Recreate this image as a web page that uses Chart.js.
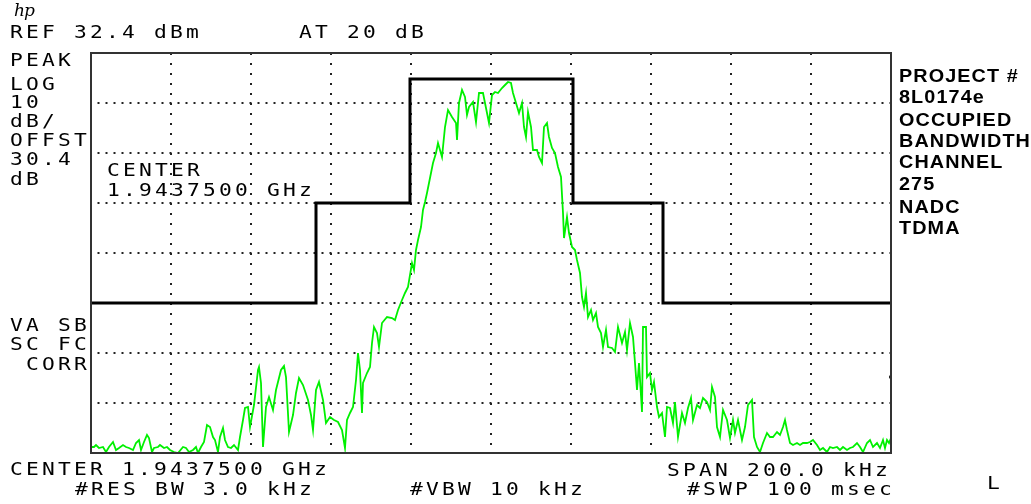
<!DOCTYPE html>
<html>
<head>
<meta charset="utf-8">
<script src="https://cdn.jsdelivr.net/npm/chart.js@4.4.0/dist/chart.umd.min.js"></script>
<style>
  html, body { margin: 0; padding: 0; background: #fff; }
  #wrap { position: relative; width: 1031px; height: 504px; overflow: hidden; background: #fff; }
  #c { position: absolute; left: 0; top: 0; }
  .m { position: absolute; font-family: "DejaVu Sans Mono", "Liberation Mono", monospace; font-size: 17px;
       line-height: 17px; letter-spacing: 2.57px; color: #000; white-space: pre;
       transform: scaleX(1.25); transform-origin: 0 0; }
  .b { position: absolute; font-family: "Liberation Sans", Arial, sans-serif; font-weight: bold; font-size: 18px;
       line-height: 18px; letter-spacing: 1px; color: #000; white-space: pre;
       transform: scaleX(1.1); transform-origin: 0 0; }
  .logo { position: absolute; left: 14px; top: 2px; font-family: "DejaVu Serif", serif; font-style: italic;
          font-size: 17px; line-height: 17px; color: #000; letter-spacing: -1px; }
</style>
</head>
<body>
<div id="wrap">
  <canvas id="c" width="1031" height="504"></canvas>
  <div class="logo">hp</div>
  <div class="m" style="left:10.4px;top:24.1px">REF 32.4 dBm</div>
  <div class="m" style="left:298.7px;top:24.1px">AT 20 dB</div>
  <div class="m" style="left:10.4px;top:52.3px">PEAK</div>
  <div class="m" style="left:10.4px;top:75.6px">LOG</div>
  <div class="m" style="left:10.4px;top:93.9px">10</div>
  <div class="m" style="left:10.4px;top:113px">dB/</div>
  <div class="m" style="left:10.4px;top:132.3px">OFFST</div>
  <div class="m" style="left:10.4px;top:150.6px">30.4</div>
  <div class="m" style="left:10.4px;top:170.6px">dB</div>
  <div class="m" style="left:107px;top:162.3px">CENTER</div>
  <div class="m" style="left:107px;top:182.3px">1.9437500 GHz</div>
  <div class="m" style="left:10.4px;top:317.3px">VA SB</div>
  <div class="m" style="left:10.4px;top:336.3px">SC FC</div>
  <div class="m" style="left:10.4px;top:356.3px"> CORR</div>
  <div class="m" style="left:10.4px;top:460.6px">CENTER 1.9437500 GHz</div>
  <div class="m" style="left:74.7px;top:480.6px">#RES BW 3.0 kHz</div>
  <div class="m" style="left:410.4px;top:480.6px">#VBW 10 kHz</div>
  <div class="m" style="left:667px;top:461.6px">SPAN 200.0 kHz</div>
  <div class="m" style="left:687px;top:480.6px">#SWP 100 msec</div>
  <div class="m" style="left:987px;top:474.6px">L</div>
  <div class="b" style="left:899px;top:66.5px">PROJECT #</div>
  <div class="b" style="left:899px;top:88.1px">8L0174e</div>
  <div class="b" style="left:899px;top:110.5px">OCCUPIED</div>
  <div class="b" style="left:899px;top:131.5px">BANDWIDTH</div>
  <div class="b" style="left:899px;top:153.1px">CHANNEL</div>
  <div class="b" style="left:899px;top:174.8px">275</div>
  <div class="b" style="left:899px;top:197.5px">NADC</div>
  <div class="b" style="left:899px;top:218.8px">TDMA</div>
</div>
<script>
// Frequency offset from centre (kHz) and measured level (dBm) of the green trace
const freqKHz = [-100,-99.25,-98.75,-98,-97,-96.25,-95.5,-94.5,-93.75,-93,
-92,-91.25,-90.5,-89.5,-88.75,-88,-87.5,-86.75,-86,-85.5,
-84.75,-84.25,-83.25,-82.75,-81.75,-81,-80.25,-79.25,-78.25,-77,
-76.25,-75.5,-74.5,-73.75,-73.25,-72.5,-71.75,-71,-70.25,-69.5,
-69,-68.25,-67.75,-67,-66.5,-65.75,-65,-64.25,-63.25,-62.75,
-62,-61.5,-60.75,-60.25,-59.25,-58.25,-58,-57.5,-57,-56.25,
-55.5,-54.5,-53.75,-52.5,-51.75,-51.25,-50.5,-49.5,-48.75,-48,
-47,-45.75,-45,-44.5,-43.75,-43,-42,-41.25,-40.25,-39.25,
-38.25,-37.25,-36.5,-36,-35.25,-34.5,-33.75,-33.25,-32.75,-32.25,
-32,-31,-30.25,-29.75,-29.25,-28.5,-28,-27.25,-26,-24.75,
-24,-23.25,-22.25,-21.5,-20.75,-19.75,-19.25,-18.75,-18.25,-17.5,
-17,-16.5,-16,-15.25,-14.5,-13.75,-13.25,-12.25,-11.5,-10.75,
-9.75,-8.75,-8.5,-8,-7.25,-6.5,-6,-5.5,-4.5,-3.75,
-3,-2,-1.5,-1,-0.5,0.25,1,1.75,2.75,3.5,
4.25,5,5.5,6.25,7,7.75,8.25,8.75,9.25,10,
10.5,11.5,12,12.75,13.25,14,14.5,15.25,16,16.75,
17.5,18,18.25,19,19.5,20.25,21,21.5,22.25,22.75,
23.25,23.75,24.25,25,25.5,26.25,26.75,27.5,28,28.75,
29.25,30.25,31,31.75,32.75,33.5,34,34.75,35.5,36,
36.5,37,37.75,38,38.75,39,39.75,40.25,40.75,41.5,
42,42.75,43.5,44,44.75,45.5,46,46.75,47.75,48.5,
49.25,50,50.5,51.5,52.25,53,54,54.75,55.25,56,
56.5,57.25,58,59,59.75,60.5,61,61.75,62.75,63.5,
64.25,65.25,65.75,66.5,67.25,68,69,69.75,70.5,71.5,
72.25,73,73.5,74,74.75,75.5,76.5,77.25,78,79,
79.75,80.5,81.5,82.25,83,84,84.75,85.5,86.5,87.25,
88,89,89.75,90.5,91.5,92.25,93,94,94.75,95.5,
96.5,97.25,98,98.5,99,99.5,100];

const traceDBm = [-46.4,-46.4,-46,-46.6,-46.4,-47.4,-46.4,-45.4,-47,-46.6,
-46,-46.4,-46.6,-47,-45.6,-45,-47,-45.4,-44,-44.6,
-47.4,-46.6,-46.4,-46,-46.6,-46.4,-47,-47.4,-47.6,-46.4,
-46.6,-47.4,-47,-46.4,-47.6,-46.4,-45.4,-42,-42.4,-44.4,
-45,-47.4,-44.4,-42.6,-45,-46.4,-46.6,-46,-47,-44.4,
-41,-38.6,-38.4,-42.4,-38,-31,-30.4,-33.6,-46.4,-38.4,
-36.4,-39,-35,-31,-30.2,-32.4,-43.4,-40,-35.6,-32.6,
-34,-37,-40,-43,-35,-33.4,-37,-41.6,-40.4,-41,
-41.4,-43,-46.6,-41,-39.6,-38.4,-33,-27.6,-31,-39.6,
-33.6,-31.6,-30.4,-25.6,-22.4,-23.6,-26.4,-21.6,-20.4,-20.6,
-21,-19,-17,-15.6,-14.4,-9.6,-11,-7,-5,-2.4,
1,2.6,4.4,7.4,10.4,12.4,14.4,11.6,17.6,21,
19.6,18.4,15,22.4,25,23.6,20,21.6,22.6,18.6,
24.4,24.4,22.4,20.4,18.4,24,24.6,24.4,25.4,26,
26.6,26.4,24.4,22.4,20.4,22.4,17.6,15.6,20.6,17.6,
13,13,11.6,10.4,17.6,18.4,15.6,13.4,12.4,9.6,
7.6,0.4,-4.6,-0.4,-3.6,-6.4,-7,-9,-11.6,-16.4,
-18.4,-15.6,-20.4,-19,-21,-19.6,-22.4,-23.6,-26.4,-23,
-26.4,-26.6,-27.4,-22.4,-25.6,-23.4,-27,-21.6,-24.4,-29.6,
-35,-29.6,-39.4,-22.4,-22.4,-32.4,-31.6,-35,-33.4,-38.4,
-40.4,-39.6,-44.4,-38.4,-38.6,-41.6,-37.4,-44.4,-39.6,-41.6,
-38.6,-36.6,-41,-38,-38.6,-36.6,-37.4,-39,-34.4,-36.4,
-42.4,-44.4,-39,-41,-44.6,-41,-43.6,-41,-45,-42.4,
-38,-37,-44.4,-46.4,-47.4,-45.6,-43.6,-44.4,-44.4,-43.4,
-44,-42.4,-41,-43,-45.6,-46,-45.6,-46,-45.6,-45.6,
-45.4,-45,-46,-47,-46.6,-47.4,-46.4,-46.6,-46.4,-47,
-46.4,-47,-46.6,-46.4,-45.6,-46.4,-47.4,-45.6,-45,-46.4,
-45.6,-46.6,-45,-46.6,-45,-45.6,-44.6];

// Occupied-bandwidth mask (step corners, kHz / dBm)
const maskFreqKHz = [-100, -43.75, -20.25, 20.5, 43, 100];
const maskDBm     = [-17.6, 2.4, 27.2, 2.4, -17.6, -17.6];

// Edge marker on the right border
const markerFreqKHz = [100];
const markerDBm = [-32.4];

// Graticule: 20 kHz/div, 10 dB/div from REF 32.4 dBm
const xTicks = [-100,-80,-60,-40,-20,0,20,40,60,80,100];
const yTicks = [32.4,22.4,12.4,2.4,-7.6,-17.6,-27.6,-37.6,-47.6];

const n = Math.min(freqKHz.length, traceDBm.length);
const traceData = [];
for (let i = 0; i < n; i++) traceData.push({x: freqKHz[i], y: traceDBm[i]});
const maskData = maskFreqKHz.map((f, i) => ({x: f, y: maskDBm[i]}));
const markerData = markerFreqKHz.map((f, i) => ({x: f, y: markerDBm[i]}));

const framePlugin = {
  id: 'frame',
  afterDatasetsDraw(chart) {
    const a = chart.chartArea, ctx = chart.ctx;
    ctx.save();
    ctx.strokeStyle = '#333';
    ctx.lineWidth = 2;
    ctx.strokeRect(a.left, a.top, a.right - a.left, a.bottom - a.top);
    ctx.restore();
  }
};

new Chart(document.getElementById('c'), {
  type: 'line',
  data: {
    datasets: [
      { label: 'mask', data: maskData, stepped: 'before', borderColor: '#000', borderWidth: 3,
        pointRadius: 0, fill: false, order: 0 },
      { label: 'marker', data: markerData, showLine: false, pointRadius: 2, pointBackgroundColor: '#000',
        pointBorderWidth: 0, order: 1 },
      { label: 'trace', data: traceData, borderColor: '#00f000', borderWidth: 1.8,
        pointRadius: 0, tension: 0, fill: false, order: 2 }
    ]
  },
  options: {
    responsive: false,
    animation: false,
    events: [],
    layout: { padding: { left: 91, right: 140, top: 53, bottom: 51 } },
    plugins: { legend: { display: false }, tooltip: { enabled: false }, title: { display: false } },
    scales: {
      x: {
        type: 'linear', min: -100, max: 100,
        afterBuildTicks: s => { s.ticks = xTicks.map(v => ({value: v})); },
        ticks: { display: false },
        grid: { color: '#222', lineWidth: 2, drawTicks: false },
        border: { display: false, dash: [2, 8], dashOffset: 0 }
      },
      y: {
        type: 'linear', min: -47.6, max: 32.4,
        afterBuildTicks: s => { s.ticks = yTicks.map(v => ({value: v})); },
        ticks: { display: false },
        grid: { color: '#222', lineWidth: 2, drawTicks: false },
        border: { display: false, dash: [2, 6], dashOffset: 1.5 }
      }
    }
  },
  plugins: [framePlugin]
});
</script>
</body>
</html>
